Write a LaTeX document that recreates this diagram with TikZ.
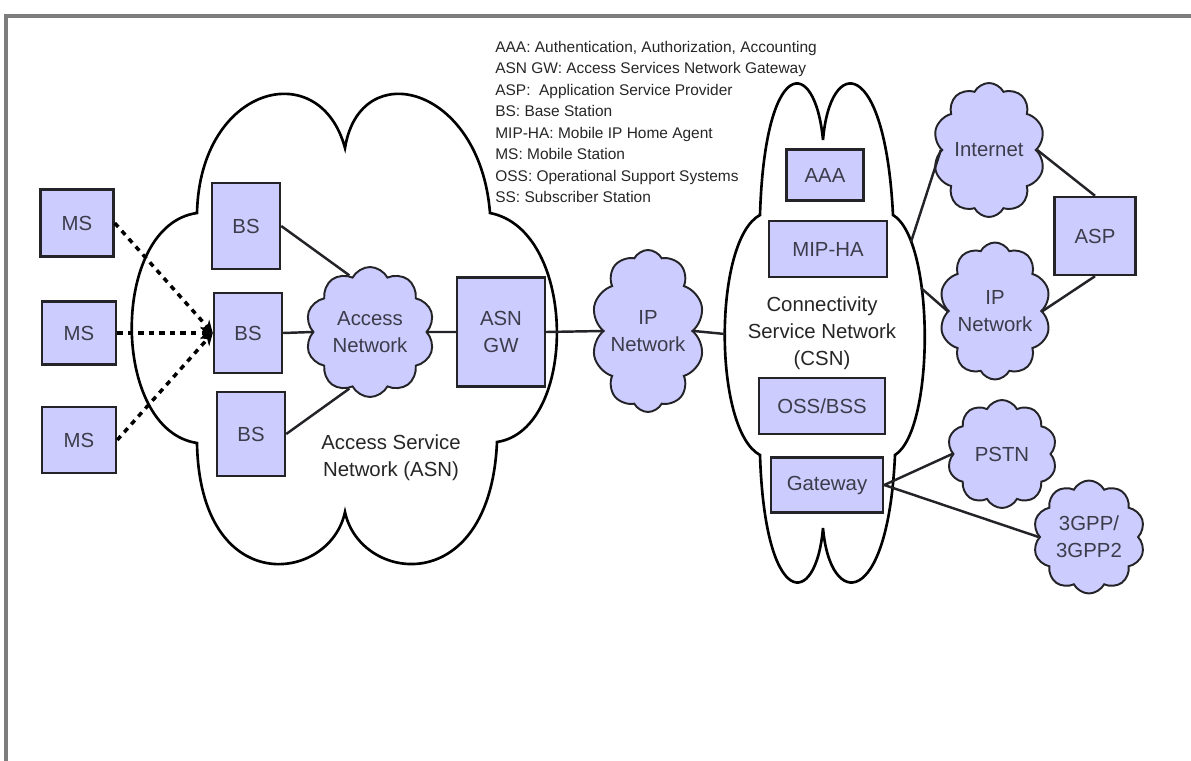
\documentclass[tikz,border=0pt]{standalone}
\usepackage{fontspec}
\setmainfont{Liberation Sans}
\usetikzlibrary{shapes.symbols,arrows.meta}

\definecolor{lav}{RGB}{204,204,255}
\definecolor{ink}{RGB}{35,35,40}
\definecolor{labelgray}{RGB}{60,60,75}
\definecolor{framegray}{RGB}{125,125,125}

\newcommand\labfont{\fontsize{11.6pt}{15.5pt}\selectfont}
\newcommand\legfont{\fontsize{8.8pt}{12.2pt}\selectfont}

\begin{document}
\begin{tikzpicture}[x=0.02cm,y=-0.02cm,
  wh/.style 2 args={minimum width=#1*0.02cm, minimum height=#2*0.02cm},
  box/.style={draw=ink, fill=lav, line width=1.4pt, inner sep=0pt,
    align=center, font=\labfont, text=labelgray},
  puff/.style={cloud, cloud puffs=10, cloud puff arc=125, cloud ignores aspect,
    draw=ink, fill=lav, line width=1.1pt, inner sep=0pt,
    align=center, font=\labfont, text=labelgray},
  link/.style={line width=1.4pt, draw=ink},
  radio/.style={line width=2pt, draw=black, dash pattern=on 3pt off 3pt,
    -{Stealth[length=7pt,width=7pt]}},
  bigcloud/.style={draw=black, fill=white, line width=1.5pt},
  caption/.style={align=center, font=\labfont, text=black!85, inner sep=0pt}]

\useasboundingbox (0,0) rectangle (1191,761);

% frame
\draw[framegray, line width=1.8pt] (6,761) -- (6,16) -- (1191,16);

% Access Service Network cloud
\draw[bigcloud] (197,213)
  .. controls (200,85) and (320,55) .. (345,148)
  .. controls (360,55) and (480,85) .. (490,213)
  .. controls (578,230) and (578,430) .. (497,442)
  .. controls (490,600) and (360,583) .. (345,512)
  .. controls (330,583) and (200,600) .. (197,443)
  .. controls (110,430) and (110,225) .. cycle;

% Connectivity Service Network cloud
\draw[bigcloud] (760,215)
  .. controls (765,55) and (815,55) .. (823,140)
  .. controls (830,55) and (885,55) .. (893,215)
  .. controls (935,240) and (935,430) .. (895,455)
  .. controls (888,610) and (830,610) .. (823,528)
  .. controls (816,610) and (765,610) .. (760,455)
  .. controls (713,430) and (713,240) .. cycle;

\coordinate (csnW) at (725,334);
\coordinate (csnNE) at (911,242);
\coordinate (csnE) at (921,288);

% legend
\node[anchor=north west, align=left, inner sep=0pt, font=\legfont, text=black!85]
  (legend) at (495,41) {AAA: Authentication, Authorization, Accounting\\
  ASN GW: Access Services Network Gateway\\
  ASP:\ \ Application Service Provider\\
  BS: Base Station\\
  MIP-HA: Mobile IP Home Agent\\
  MS: Mobile Station\\
  OSS: Operational Support Systems\\
  SS: Subscriber Station};

% mobile stations
\node[box, wh={73}{67}] (ms1) at (77,223) {MS};
\node[box, wh={74}{63}] (ms2) at (79,333) {MS};
\node[box, wh={74}{66}] (ms3) at (79,440) {MS};

% base stations
\node[box, wh={68}{86}] (bs1) at (246,226) {BS};
\node[box, wh={68}{80}] (bs2) at (248,333) {BS};
\node[box, wh={68}{84}] (bs3) at (251,434) {BS};

% access side
\node[puff, wh={129}{130}] (an) at (370,332) {Access\\Network};
\node[box, wh={88}{109}] (gw) at (501,332) {ASN\\GW};
\node[caption] (asnlab) at (391,458) {Access Service\\Network (ASN)};

\node[puff, wh={113}{162}] (ip1) at (648,331) {IP\\Network};

% connectivity service network
\node[box, wh={77}{51}] (aaa) at (825,175) {AAA};
\node[box, wh={118}{56}] (mip) at (828,249) {MIP-HA};
\node[caption] (csnlab) at (822,333) {Connectivity\\Service Network\\(CSN)};
\node[box, wh={126}{56}] (oss) at (822,406) {OSS/BSS};
\node[box, wh={112}{55}] (gate) at (827,485) {Gateway};

% external networks
\node[puff, wh={112}{134}] (inet) at (989,150) {Internet};
\node[box, wh={81}{78}] (asp) at (1095,236) {ASP};
\node[puff, wh={110}{137}] (ip2) at (995,311) {IP\\Network};
\node[puff, wh={110}{108}] (pstn) at (1002,454) {PSTN};
\node[puff, wh={112}{113}] (gpp) at (1089,537) {3GPP/\\3GPP2};

% radio links
\draw[radio] (ms1.east) -- (bs2.west);
\draw[radio] (ms2.east) -- (bs2.west);
\draw[radio] (ms3.east) -- (bs2.west);

% wired links
\draw[link] (bs1.east) -- (an.110);
\draw[link] (bs2.east) -- (an.west);
\draw[link] (bs3.east) -- (an.250);
\draw[link] (an.east) -- (gw.west);
\draw[link] (gw.east) -- (ip1.west);
\draw[link] (ip1.east) -- (csnW);
\draw[link] (csnNE) -- (inet.west);
\draw[link] (csnE) -- (ip2.west);
\draw[link] (inet.east) -- (asp.north);
\draw[link] (asp.south) -- (ip2.east);
\draw[link] (gate.east) -- (pstn.west);
\draw[link] (gate.east) -- (gpp.west);
\end{tikzpicture}
\end{document}
